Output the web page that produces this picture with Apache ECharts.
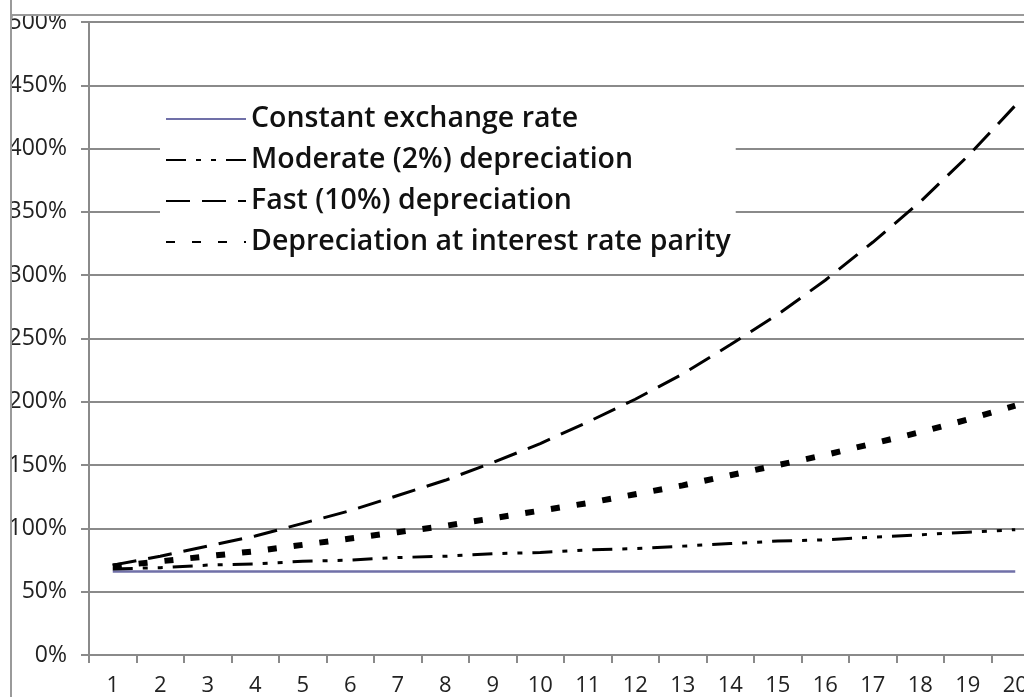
<!DOCTYPE html>
<html><head><meta charset="utf-8">
<script src="https://cdn.jsdelivr.net/npm/echarts@6/dist/echarts.min.js"></script>
<style>
html,body{margin:0;padding:0;background:#fff;}
#c{position:absolute;left:0;top:0;width:1024px;height:697px;}
#topmask{position:absolute;left:0;top:0;width:1024px;height:14px;background:#fff;border-bottom:2px solid #9a9a9a;}
#leftmask{position:absolute;left:0;top:0;width:10px;height:697px;background:#fff;border-right:2px solid #9a9a9a;}
</style></head>
<body>
<div id="c"></div>
<div id="topmask"></div>
<div id="leftmask"></div>
<script>
const categories = ['1','2','3','4','5','6','7','8','9','10','11','12','13','14','15','16','17','18','19','20'];
const constantRate = [66,66,66,66,66,66,66,66,66,66,66,66,66,66,66,66,66,66,66,66];
const moderate = [68,69,71,72,74,75,77,78,80,81,83,84,86,88,90,91,93,95,97,99];
const fast = [71,78,86,94,104,114,126,138,152,167,184,202,222,245,269,296,326,358,394,434];
const parity = [70,74,78,82,87,92,97,102,108,114,120,127,134,142,150,158,167,176,186,197];
const seriesNames = ['Constant exchange rate','Moderate (2%) depreciation','Fast (10%) depreciation','Depreciation at interest rate parity'];

const chart = echarts.init(document.getElementById('c'));
const font = 'Open Sans';
chart.setOption({
  animation:false,
  backgroundColor:'#fff',
  grid:{left:89, right:-15, top:22, bottom:42, containLabel:false, outerBoundsMode:'none'},
  legend:{
    orient:'vertical', left:160, top:96, padding:[8,5,8,5],
    backgroundColor:'#fff', itemWidth:80, itemHeight:10, itemGap:11,
    itemStyle:{opacity:0},
    textStyle:{fontFamily:font, fontSize:28.5, fontWeight:600, color:'#111', lineHeight:30},
    data:seriesNames
  },
  xAxis:{
    type:'category', data:categories, boundaryGap:true,
    axisLine:{lineStyle:{color:'#8a8a8a', width:2}},
    axisTick:{show:true, length:8, lineStyle:{color:'#8a8a8a', width:2}},
    axisLabel:{fontFamily:font, fontSize:22, color:'#222', margin:20}
  },
  yAxis:{
    type:'value', min:0, max:500, interval:50,
    axisLine:{show:true, lineStyle:{color:'#8a8a8a', width:2}},
    axisTick:{show:true, length:8, lineStyle:{color:'#8a8a8a', width:2}},
    splitLine:{lineStyle:{color:'#8a8a8a', width:2}},
    axisLabel:{fontFamily:font, fontSize:23, color:'#222', margin:22, formatter:'{value}%'}
  },
  series:[
    {name:seriesNames[0], type:'line', data:constantRate, symbol:'none', lineStyle:{color:'#7070a8', width:2.5}, itemStyle:{color:'#7070a8'}},
    {name:seriesNames[1], type:'line', data:moderate, symbol:'none', lineStyle:{color:'#000', width:3, type:[20,10,5,10,5,10]}, itemStyle:{color:'#000'}},
    {name:seriesNames[2], type:'line', data:fast, symbol:'none', lineStyle:{color:'#000', width:3, type:[24,12]}, itemStyle:{color:'#000'}},
    {name:seriesNames[3], type:'line', data:parity, symbol:'none', lineStyle:{color:'#000', width:6, type:[9,17]}, itemStyle:{color:'#000'}}
  ]
});
</script>
</body></html>
